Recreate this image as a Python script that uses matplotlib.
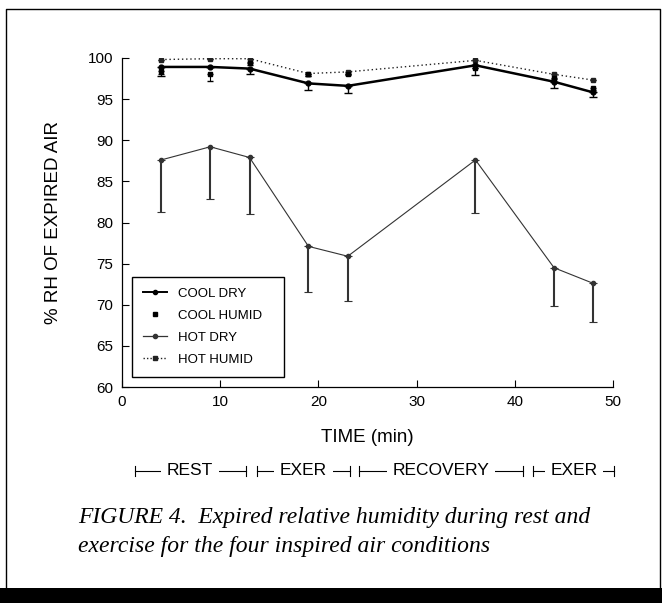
import matplotlib
matplotlib.use('Agg')
import matplotlib.pyplot as plt
from matplotlib.lines import Line2D
import matplotlib.transforms as mtransforms

plt.rcParams['font.family'] = ['Liberation Sans', 'DejaVu Sans']

# donnees (temps en min, % RH)
time = [4, 9, 13, 19, 23, 36, 44, 48]
cool_dry = [98.9, 98.9, 98.7, 96.9, 96.6, 99.1, 97.1, 95.8]
cool_dry_err = [1.1, 0.0, 0.6, 0.8, 0.9, 1.2, 0.8, 0.6]
cool_humid = [98.4, 98.1, 99.4, 98.0, 98.1, 98.8, 97.6, 96.3]
cool_humid_err = [0.3, 0.9, 0.3, 0.2, 0.2, 0.0, 0.2, 0.2]
hot_dry = [87.6, 89.2, 87.9, 77.1, 75.9, 87.6, 74.5, 72.6]
hot_dry_err = [6.3, 6.4, 6.9, 5.6, 5.4, 6.5, 4.6, 4.7]
hot_humid = [99.8, 99.9, 99.9, 98.1, 98.3, 99.7, 98.0, 97.3]
hot_humid_err = [0.0, 0.0, 0.4, 0.3, 0.3, 0.0, 0.0, 0.0]

phase_labels = ['REST', 'EXER', 'RECOVERY', 'EXER']
phase_starts = [1.3, 13.8, 24.1, 41.9]
phase_ends = [12.6, 23.2, 40.8, 50.1]

xticks = [0, 10, 20, 30, 40, 50]
yticks = [60, 65, 70, 75, 80, 85, 90, 95, 100]

fig = plt.figure(figsize=(6.62, 6.03), dpi=100)
ax = fig.add_axes([0.184, 0.358, 0.742, 0.546])

# series
ax.errorbar(time, hot_dry, yerr=[hot_dry_err, [0] * len(time)], color='#333333', lw=0.8,
            marker='o', ms=3, elinewidth=1.5, capsize=3, capthick=0.8, zorder=3)
ax.errorbar(time, hot_humid, yerr=[hot_humid_err, [0] * len(time)], color='#222222', lw=1.0,
            ls=(0, (1, 2)), marker='s', ms=3, elinewidth=0.8, capsize=2.5, zorder=3)
ax.errorbar(time, cool_humid, yerr=[cool_humid_err, [0] * len(time)], color='black', lw=0,
            marker='s', ms=3.5, elinewidth=0.8, capsize=2.5, zorder=4)
ax.errorbar(time, cool_dry, yerr=[cool_dry_err, [0] * len(time)], color='black', lw=1.8,
            marker='o', ms=3.5, elinewidth=1.0, capsize=3, capthick=1.0, zorder=5)

ax.set_xlim(0, 50)
ax.set_ylim(60, 100)
ax.set_xticks(xticks)
ax.set_yticks(yticks)
ax.tick_params(direction='in', length=5, width=0.8, labelsize=11, pad=6)
ax.spines['top'].set_visible(False)
ax.spines['right'].set_visible(False)
ax.spines['left'].set_linewidth(0.9)
ax.spines['bottom'].set_linewidth(0.9)
ax.set_xlabel('TIME (min)', fontsize=13.5, labelpad=14)
ax.set_ylabel('% RH OF EXPIRED AIR', fontsize=13.5, labelpad=19)

# legende
handles = [
    Line2D([], [], color='black', lw=1.4, marker='o', ms=3),
    Line2D([], [], color='black', lw=0, marker='s', ms=3),
    Line2D([], [], color='#333333', lw=0.9, marker='o', ms=3),
    Line2D([], [], color='#222222', lw=1.0, ls=(0, (1, 1.5)), marker='s', ms=3),
]
ax.legend(handles, ['COOL DRY', 'COOL HUMID', 'HOT DRY', 'HOT HUMID'],
          loc='lower left', bbox_to_anchor=(0.021, 0.03, 0.31, 0.313), mode='expand',
          borderaxespad=0, fancybox=False, edgecolor='black', framealpha=1,
          fontsize=9.5, handlelength=1.8, labelspacing=0.74, borderpad=0.85,
          handletextpad=0.8)

# phases sous l'axe
trans = mtransforms.blended_transform_factory(ax.transData, fig.transFigure)
bar_y = 0.219
for lab, s, e in zip(phase_labels, phase_starts, phase_ends):
    ax.plot([s, e], [bar_y, bar_y], color='black', lw=0.8, transform=trans, clip_on=False)
    for xx in (s, e):
        ax.plot([xx, xx], [bar_y - 0.009, bar_y + 0.009], color='black', lw=0.8,
                transform=trans, clip_on=False)
    ax.text((s + e) / 2, bar_y, lab, transform=trans, ha='center', va='center',
            fontsize=12.5, bbox=dict(facecolor='white', edgecolor='none', pad=4))

# legende de la figure
fig.text(0.118, 0.141, 'FIGURE 4.  Expired relative humidity during rest and',
         family='Liberation Serif', style='italic', fontsize=17, va='center')
fig.text(0.118, 0.093, 'exercise for the four inspired air conditions',
         family='Liberation Serif', style='italic', fontsize=17, va='center')

# cadre de la page
fig.add_artist(Line2D([0.009, 0.009, 0.997, 0.997], [0.02, 0.985, 0.985, 0.02],
                      color='black', lw=1.0, transform=fig.transFigure))
fig.patches.append(plt.Rectangle((0, 0), 1, 0.025, facecolor='black', edgecolor='none',
                                 transform=fig.transFigure, figure=fig))

fig.savefig('out.png', dpi=100)
